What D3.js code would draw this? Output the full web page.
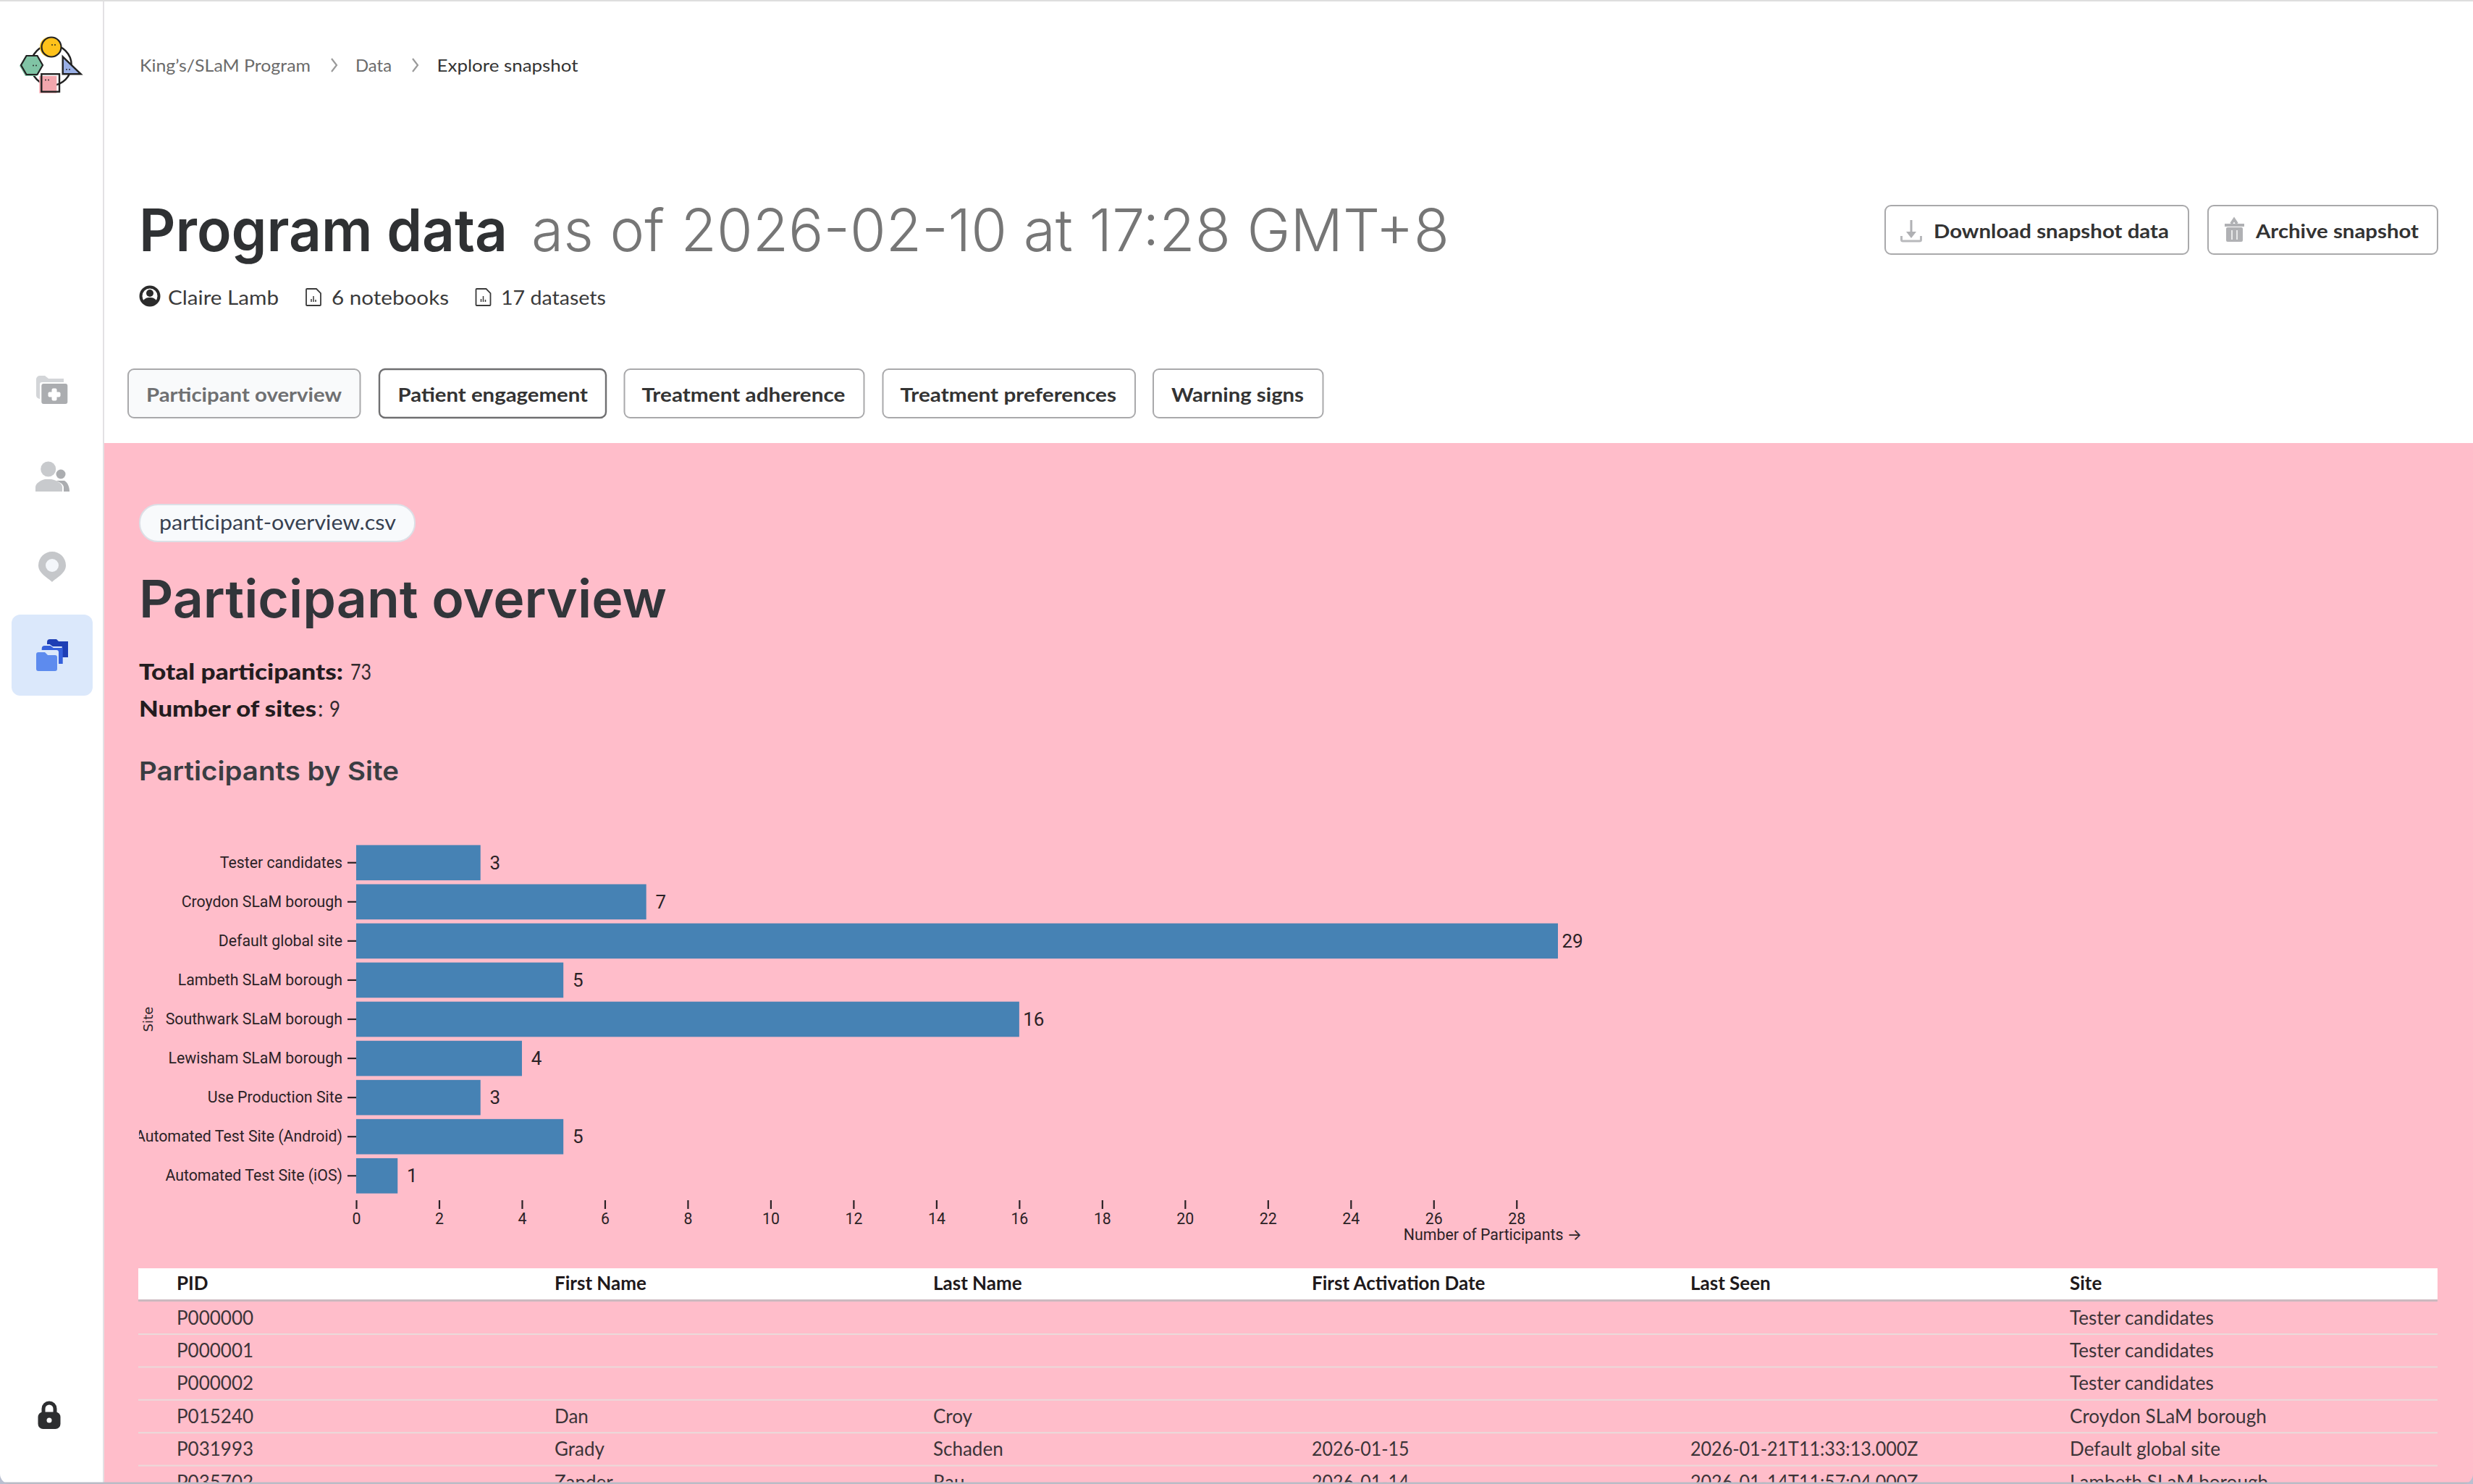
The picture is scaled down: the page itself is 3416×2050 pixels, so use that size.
<!DOCTYPE html>
<html lang="en">
  <head>
    <meta charset="UTF-8" />
    <title>Program data</title>
    <script src="https://d3js.org/d3.v7.min.js"></script>
    <style>
      html, body { margin: 0; padding: 0; background: #fff; overflow: hidden; }
      svg { display: block; }
      .chart-axis text { font-family: Roboto, sans-serif; fill: #2b2226; }
    </style>
  </head>
  <body>
    <svg id="page" width="3416" height="2050"></svg>
    <script>
      // chart data
      const sites = [
        "Tester candidates",
        "Croydon SLaM borough",
        "Default global site",
        "Lambeth SLaM borough",
        "Southwark SLaM borough",
        "Lewisham SLaM borough",
        "Use Production Site",
        "Automated Test Site (Android)",
        "Automated Test Site (iOS)"
      ];
      const participants = [3, 7, 29, 5, 16, 4, 3, 5, 1];
      const xTicks = [0, 2, 4, 6, 8, 10, 12, 14, 16, 18, 20, 22, 24, 26, 28];

      // table under the chart
      const tableColumns = ["PID", "First Name", "Last Name", "First Activation Date", "Last Seen", "Site"];
      const tableRows = [
        ["P000000", "", "", "", "", "Tester candidates"],
        ["P000001", "", "", "", "", "Tester candidates"],
        ["P000002", "", "", "", "", "Tester candidates"],
        ["P015240", "Dan", "Croy", "", "", "Croydon SLaM borough"],
        ["P031993", "Grady", "Schaden", "2026-01-15", "2026-01-21T11:33:13.000Z", "Default global site"],
        ["P035702", "Zander", "Rau", "2026-01-14", "2026-01-14T11:57:04.000Z", "Lambeth SLaM borough"]
      ];
      const tableColumnX = [244, 766, 1289, 1812, 2335, 2859];
      // Lato runs a bit off the original font, per column correction
      const tableStretch = [1, 1, 1, 0.96, 0.965, 1.005];

      const tabs = ["Participant overview", "Patient engagement", "Treatment adherence", "Treatment preferences", "Warning signs"];

      const BODY = "Lato, sans-serif";
      const HEAD = "Inter, sans-serif";
      const AXIS_SIZE = 21.3;

      const svg = d3.select("#page");

      // text helper, width squeezes the glyphs to the measured run length
      function put(parent, x, y, str, o) {
        const t = parent.append("text")
          .attr("x", x)
          .attr("y", y)
          .attr("font-family", o.font || BODY)
          .attr("font-size", o.size)
          .attr("font-weight", o.weight || 400)
          .attr("fill", o.fill || "#333")
          .text(str);
        if (o.width) t.attr("textLength", o.width).attr("lengthAdjust", "spacingAndGlyphs");
        if (o.stretch && o.stretch !== 1) {
          t.attr("textLength", t.node().getComputedTextLength() * o.stretch).attr("lengthAdjust", "spacingAndGlyphs");
        }
        return t;
      }

      function box(parent, x0, y0, x1, y1, r, fill, stroke, sw) {
        return parent.append("rect")
          .attr("x", x0).attr("y", y0)
          .attr("width", x1 - x0).attr("height", y1 - y0)
          .attr("rx", r)
          .attr("fill", fill)
          .attr("stroke", stroke || "none")
          .attr("stroke-width", sw || 0);
      }

      /////////////////
      // page frame
      box(svg, 0, 0, 3416, 2050, 0, "#ffffff");
      box(svg, 144, 612, 3416, 2050, 0, "#ffbdca");
      box(svg, 142, 0, 144, 2050, 0, "#e3e1e4");
      box(svg, 0, 0, 3416, 2, 0, "#dedede");

      /////////////////
      // sidebar
      const side = svg.append("g");

      // logo
      side.append("circle").attr("cx", 70.7).attr("cy", 90).attr("r", 28).attr("fill", "none").attr("stroke", "#222").attr("stroke-width", 2.5);
      side.append("circle").attr("cx", 69).attr("cy", 65).attr("r", 14).attr("fill", "#ffc21a");
      side.append("circle").attr("cx", 71).attr("cy", 65).attr("r", 13.5).attr("fill", "#ffc21a").attr("stroke", "#222").attr("stroke-width", 2.2);
      side.append("path").attr("d", "M27,91 L35,78 L51,78 L57,91 L51,105 L35,105 Z").attr("fill", "#80c4a5");
      side.append("path").attr("d", "M29,90 L36.5,77 L51.5,77 L59,90 L51.5,103 L36.5,103 Z").attr("fill", "#80c4a5").attr("stroke", "#222").attr("stroke-width", 2.2);
      side.append("path").attr("d", "M86.7,78.3 L111.7,102.3 L86.7,102.3 Z").attr("fill", "#9ab0e6").attr("stroke", "#222").attr("stroke-width", 2.4);
      box(side, 54.3, 105, 78.3, 128.7, 0, "#f2a6ad");
      box(side, 57.3, 102.3, 82, 126.7, 0, "none", "#222", 2.4);
      [[72, 62], [76, 62], [46, 90.5], [50, 90.5], [92, 96], [96, 96], [63, 110.5], [67, 110.5]].forEach((d) =>
        side.append("circle").attr("cx", d[0]).attr("cy", d[1]).attr("r", 0.9).attr("fill", "#222")
      );

      // patients folder
      side.append("path").attr("d", "M50,524 a5,5 0 0 1 5,-5 h7 l5,4 h21 v28 h-33 a5,5 0 0 1 -5,-5 Z").attr("fill", "#d3d5d8");
      box(side, 55, 528, 95.5, 560, 3, "#ffffff");
      box(side, 57.3, 530, 93.3, 558, 3, "#abadb0");
      box(side, 66.5, 541.5, 83.5, 548.5, 2, "#ffffff");
      box(side, 71.5, 536.5, 78.5, 553.5, 2, "#ffffff");

      // people
      side.append("circle").attr("cx", 84).attr("cy", 655).attr("r", 6.5).attr("fill", "#abadb0");
      side.append("path").attr("d", "M76,664 h13 c4,2 7,8 7,15 H76 Z").attr("fill", "#abadb0");
      side.append("path").attr("d", "M49,679 v-7 c0,-5 5,-8 13,-10 h9 c8,2 17,6 17,11 v6 Z").attr("fill", "#ffffff");
      side.append("circle").attr("cx", 66.7).attr("cy", 648).attr("r", 10.5).attr("fill", "#c8cacd");
      side.append("path").attr("d", "M49,679 v-6 c0,-5 6,-9 13,-11 h9 c8,2 15,6 15,11 v6 Z").attr("fill", "#c8cacd");

      // pin
      side.append("path").attr("d", "M72,804 C66,798 53,792 53,781 a19,19 0 0 1 38,0 C91,792 78,798 72,804 Z").attr("fill", "#c5c7ca");
      side.append("circle").attr("cx", 72).attr("cy", 781).attr("r", 9).attr("fill", "#f3f6fa");

      // active item
      box(side, 16, 849, 128, 961, 12, "#dbe8fb");
      side.append("path").attr("d", "M65,887 a4,4 0 0 1 4,-4 h9 l3,3 h13 v22 h-29 Z").attr("fill", "#1e3fb5");
      side.append("path").attr("d", "M57.7,896 a4,4 0 0 1 4,-4 h8 l4,3 h13 v22 h-29 Z").attr("fill", "#dbe8fb").attr("transform", "translate(-1,-2)");
      side.append("path").attr("d", "M57.7,896 a4,4 0 0 1 4,-4 h8 l4,3 h13 v22 h-29 Z").attr("fill", "#3560dc");
      box(side, 48, 898, 81, 929, 3, "#dbe8fb");
      side.append("path").attr("d", "M50,904 a3,3 0 0 1 3,-3 h9 l4,4 h10 a3,3 0 0 1 3,3 v16 a3,3 0 0 1 -3,3 h-23 a3,3 0 0 1 -3,-3 Z").attr("fill", "#5d8bee");

      // lock
      side.append("path").attr("d", "M60,1954 v-8 a8,8 0 0 1 16,0 v8").attr("fill", "none").attr("stroke", "#2d2e30").attr("stroke-width", 5);
      box(side, 52.5, 1950.5, 83.5, 1974, 7, "#2d2e30");
      side.append("circle").attr("cx", 68).attr("cy", 1962).attr("r", 3.5).attr("fill", "#fff");

      /////////////////
      // breadcrumb
      put(svg, 193, 99, "King’s/SLaM Program", { size: 24, fill: "#6b6b6b", width: 236 });
      put(svg, 491, 99, "Data", { size: 24, fill: "#6b6b6b", width: 50 });
      put(svg, 603.5, 99, "Explore snapshot", { size: 24, fill: "#333", width: 195 });
      [458, 570].forEach((x) =>
        svg.append("path").attr("d", `M${x},81 l7,9 l-7,9`).attr("fill", "none").attr("stroke", "#9a9a9a").attr("stroke-width", 2.2)
      );

      /////////////////
      // title row
      put(svg, 192, 347, "Program data", { font: HEAD, size: 81, weight: 600, fill: "#2f3133", width: 509 });
      put(svg, 734, 347, "as of 2026-02-10 at 17:28 GMT+8", { font: HEAD, size: 81, weight: 300, fill: "#767676", width: 1268 });

      // author and counts
      side.append("circle").attr("cx", 207).attr("cy", 409).attr("r", 12.5).attr("fill", "none").attr("stroke", "#2b2b2b").attr("stroke-width", 4);
      side.append("circle").attr("cx", 207).attr("cy", 405).attr("r", 5).attr("fill", "#2b2b2b");
      side.append("path").attr("d", "M197,417 c2,-5 6,-6 10,-6 c4,0 8,1 10,6 l-5,4 h-10 Z").attr("fill", "#2b2b2b");
      put(svg, 232, 421, "Claire Lamb", { size: 27, fill: "#3a3a3a", width: 153 });
      [423, 657.5].forEach((x) => {
        svg.append("path").attr("d", `M${x + 1},399 h13 l6,6 v16 a1,1 0 0 1 -1,1 h-18 a1,1 0 0 1 -1,-1 v-21 a1,1 0 0 1 1,-1 Z`).attr("fill", "none").attr("stroke", "#3a3a3a").attr("stroke-width", 1.8);
        svg.append("path").attr("d", `M${x + 7},417 v-4 M${x + 10},417 v-8 M${x + 13},417 v-3`).attr("stroke", "#3a3a3a").attr("stroke-width", 1.5);
      });
      put(svg, 458, 421, "6 notebooks", { size: 27, fill: "#3a3a3a", width: 162 });
      put(svg, 692, 421, "17 datasets", { size: 27, fill: "#3a3a3a", width: 145 });

      // buttons
      box(svg, 2604, 284, 3023, 351, 8, "#fff", "#a9a9ab", 2);
      box(svg, 3050, 284, 3367, 351, 8, "#fff", "#a9a9ab", 2);
      put(svg, 2671, 329, "Download snapshot data", { size: 27, weight: 700, fill: "#333", width: 325 });
      put(svg, 3116, 329, "Archive snapshot", { size: 27, weight: 700, fill: "#333", width: 225 });
      svg.append("path").attr("d", "M2640,304 v20").attr("stroke", "#b0b1b4").attr("stroke-width", 3);
      svg.append("path").attr("d", "M2633,320 h14 l-7,9 Z").attr("fill", "#b0b1b4");
      svg.append("path").attr("d", "M2626.5,326 v5 a2,2 0 0 0 2,2 h23 a2,2 0 0 0 2,-2 v-5").attr("fill", "none").attr("stroke", "#b8b9bc").attr("stroke-width", 3);
      svg.append("path").attr("d", "M3073,311 h27 M3082,309 l4,-6 l4,6").attr("fill", "none").attr("stroke", "#b0b1b4").attr("stroke-width", 4);
      box(svg, 3075, 314, 3098, 334, 2, "#b0b1b4");
      svg.append("path").attr("d", "M3083,318 v13 M3090,318 v13").attr("stroke", "#fff").attr("stroke-width", 1.4);

      // tabs
      const tabBoxes = [[177, 497.5], [524, 837], [862.5, 1193.5], [1219.5, 1568], [1593, 1827.5]];
      const tabText = [[202, 270], [549.5, 262.5], [886.5, 281], [1243.5, 298.5], [1618, 183]];
      tabs.forEach((name, i) => {
        const first = i === 0;
        const active = i === 1;
        box(svg, tabBoxes[i][0], 510, tabBoxes[i][1], 577, 8, first ? "#f9fafb" : "#fff", active ? "#6f6f71" : "#a9a9ab", active ? 2.4 : 2);
        put(svg, tabText[i][0], 555, name, { size: 27, weight: 700, fill: first ? "#6f7072" : "#333", width: tabText[i][1] });
      });

      /////////////////
      // section header
      box(svg, 193, 697, 573, 748, 25, "#f8fafc", "#dcdfe6", 2);
      put(svg, 220, 732, "participant-overview.csv", { size: 29, fill: "#374151", width: 327 });
      put(svg, 192, 853, "Participant overview", { font: HEAD, size: 72, weight: 600, fill: "#32353a", width: 729 });
      put(svg, 192, 939, "Total participants:", { size: 30, weight: 900, fill: "#241c20", width: 282 });
      put(svg, 484, 939, "73", { size: 30, fill: "#332a2e", width: 29 });
      put(svg, 192, 990, "Number of sites", { size: 30, weight: 900, fill: "#241c20", width: 245 });
      put(svg, 439, 990, ":", { size: 30, fill: "#332a2e" });
      put(svg, 455, 990, "9", { size: 30, fill: "#332a2e", width: 15 });
      put(svg, 192, 1078, "Participants by Site", { font: HEAD, size: 36, weight: 600, fill: "#3a3d42", width: 359 });

      /////////////////
      // bar chart
      const x = d3.scaleLinear().domain([0, 29]).range([492, 2152]);
      const y = d3.scaleBand().domain(sites).range([1162, 1654]).paddingInner(0.1).paddingOuter(0.1);

      svg.append("defs").append("clipPath").attr("id", "chart-clip")
        .append("rect").attr("x", 192).attr("y", 1100).attr("width", 2300).attr("height", 640);
      const chart = svg.append("g").attr("clip-path", "url(#chart-clip)");

      chart.selectAll("rect.bar")
        .data(sites)
        .enter()
        .append("rect")
        .attr("class", "bar")
        .attr("x", x(0))
        .attr("y", (d) => y(d))
        .attr("width", (d, i) => x(participants[i]) - x(0))
        .attr("height", y.bandwidth())
        .attr("fill", "steelblue");

      chart.selectAll("text.value")
        .data(sites)
        .enter()
        .append("text")
        .attr("class", "value")
        .attr("x", (d, i) => x(participants[i]) + 20)
        .attr("y", (d) => y(d) + y.bandwidth() / 2)
        .attr("dy", "0.35em")
        .attr("text-anchor", "middle")
        .attr("font-family", "Roboto, sans-serif")
        .attr("font-size", 26)
        .attr("fill", "#2b2226")
        .text((d, i) => participants[i]);

      const yAxis = chart.append("g")
        .attr("class", "chart-axis")
        .attr("transform", `translate(${x(0)},0)`)
        .call(d3.axisLeft(y).tickSize(12).tickPadding(7));
      yAxis.select(".domain").remove();
      yAxis.selectAll("text").attr("font-size", AXIS_SIZE);
      yAxis.selectAll("line").attr("stroke", "#2b2226").attr("stroke-width", 2.2);

      const xAxis = chart.append("g")
        .attr("class", "chart-axis")
        .attr("transform", "translate(0,1658)")
        .call(d3.axisBottom(x).tickValues(xTicks).tickSize(12).tickPadding(6));
      xAxis.select(".domain").remove();
      xAxis.selectAll("text").attr("font-size", AXIS_SIZE);
      xAxis.selectAll("line").attr("stroke", "#2b2226").attr("stroke-width", 2.2);

      const xTitle = chart.append("text")
        .attr("x", 2185)
        .attr("y", 1713)
        .attr("text-anchor", "end")
        .attr("font-family", "Roboto, sans-serif")
        .attr("font-size", AXIS_SIZE)
        .attr("fill", "#2b2226")
        .text("Number of Participants ");
      xTitle.append("tspan").attr("font-family", "Inter, sans-serif").text("→");

      chart.append("text")
        .attr("transform", "translate(211,1408) rotate(-90)")
        .attr("text-anchor", "middle")
        .attr("font-family", "DejaVu Sans, sans-serif")
        .attr("font-size", 18.2)
        .attr("fill", "#2b2226")
        .text("Site");

      /////////////////
      // table
      const ROW_TOP = 1798;
      const ROW_STEP = 45.4;
      box(svg, 191, 1752, 3367, 1795, 0, "#ffffff");
      box(svg, 191, 1795, 3367, 1798, 0, "#cbb9bf");

      tableColumns.forEach((name, i) => {
        put(svg, tableColumnX[i], 1782, name, { size: 26, weight: 700, fill: "#1f1a1c" });
      });

      tableRows.forEach((row, r) => {
        const top = ROW_TOP + r * ROW_STEP;
        box(svg, 191, top + ROW_STEP - 1.4, 3367, top + ROW_STEP + 0.6, 0, "#eadada");
        row.forEach((cell, c) => {
          if (cell) put(svg, tableColumnX[c], top + 31.5, cell, { size: 26, fill: "#3c3438", stretch: tableStretch[c] });
        });
      });

      // window bottom edge, rounded at the two corners
      box(svg, 0, 2047.5, 3416, 2050, 0, "#b9bcc6");
      svg.append("path").attr("d", "M0,2036 v14 h14 a14,14 0 0 1 -14,-14 Z").attr("fill", "#b9bfd0");
      svg.append("path").attr("d", "M3416,2036 v14 h-14 a14,14 0 0 0 14,-14 Z").attr("fill", "#b9bfd0");
    </script>
  </body>
</html>
